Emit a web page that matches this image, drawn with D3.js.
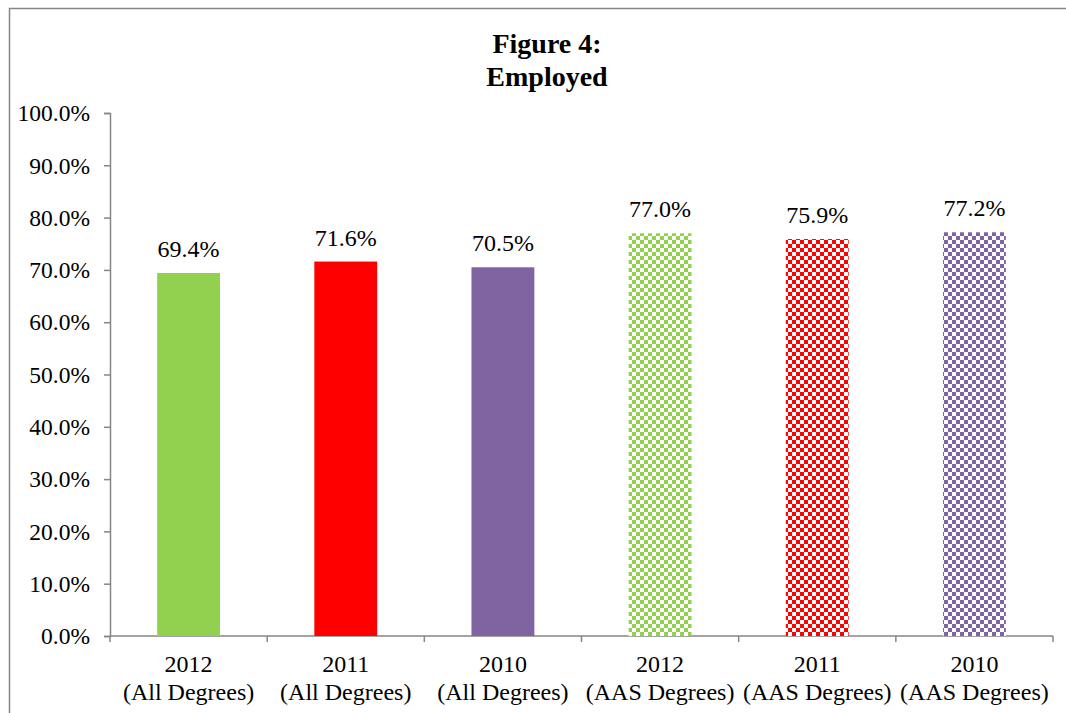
<!DOCTYPE html>
<meta charset="utf-8">
<style>
    body { margin: 0; padding: 0; background: #fff; }
    svg { display: block; }
    text { font-family: "Liberation Serif", "Times New Roman", serif; fill: #000; }
</style>
<svg width="1066" height="713"></svg>
<script src="https://d3js.org/d3.v7.min.js"></script>
<script>
    var years = ["2012", "2011", "2010", "2012", "2011", "2010"];
    var groups = ["(All Degrees)", "(All Degrees)", "(All Degrees)", "(AAS Degrees)", "(AAS Degrees)", "(AAS Degrees)"];
    var values = [69.4, 71.6, 70.5, 77.0, 75.9, 77.2];
    var colors = ["#92D050", "#FF0000", "#8064A2", "#92D050", "#FF0000", "#8064A2"];
    var checkered = [false, false, false, true, true, true];
    var yTicks = [0, 10, 20, 30, 40, 50, 60, 70, 80, 90, 100];

    var svg = d3.select("svg");
    var margin = { left: 110, right: 13, top: 113, bottom: 77 };
    var width = 1066, height = 713;

    // chart frame (right and bottom edges fall outside the picture)
    svg.append("rect")
        .attr("x", 9.5).attr("y", 8.5)
        .attr("width", 1080).attr("height", 720)
        .attr("fill", "#fff")
        .attr("stroke", "#868686").attr("stroke-width", 1.5);

    // checker patterns
    var defs = svg.append("defs");
    colors.forEach(function(c, i) {
        if (!checkered[i]) return;
        var p = defs.append("pattern")
            .attr("id", "chk" + i)
            .attr("patternUnits", "userSpaceOnUse")
            .attr("width", 8).attr("height", 8);
        p.append("rect").attr("width", 8).attr("height", 8).attr("fill", "#fff");
        p.append("rect").attr("width", 4).attr("height", 4).attr("fill", c);
        p.append("rect").attr("x", 4).attr("y", 4).attr("width", 4).attr("height", 4).attr("fill", c);
    });

    var x = d3.scaleBand()
        .domain(d3.range(values.length))
        .range([margin.left, width - margin.right])
        .paddingInner(0.6).paddingOuter(0.3);

    var y = d3.scaleLinear().domain([0, 100]).range([height - margin.bottom, margin.top]);

    // title
    var title = svg.append("text")
        .attr("text-anchor", "middle")
        .style("font-weight", "bold").style("font-size", "28px");
    title.append("tspan").attr("x", 547).attr("y", 53).text("Figure 4:");
    title.append("tspan").attr("x", 547).attr("y", 86).text("Employed");

    // y axis
    var yAxis = svg.append("g")
        .attr("transform", "translate(" + margin.left + ",0)")
        .call(d3.axisLeft(y).tickValues(yTicks).tickSize(6).tickPadding(14)
            .tickFormat(function(d) { return d.toFixed(1) + "%"; }));
    yAxis.selectAll("text").style("font-size", "23.5px").attr("dy", "0.33em");

    // x axis
    var x0 = margin.left, x1 = width - margin.right;
    var xAxis = svg.append("g");
    xAxis.append("line")
        .attr("x1", x0).attr("x2", x1)
        .attr("y1", y(0)).attr("y2", y(0));
    d3.range(values.length + 1).forEach(function(i) {
        var xx = x0 + i * (x1 - x0) / values.length;
        xAxis.append("line")
            .attr("x1", xx).attr("x2", xx)
            .attr("y1", y(0)).attr("y2", y(0) + 6);
    });
    svg.selectAll("g line, g path.domain")
        .attr("stroke", "#868686").attr("stroke-width", 1.5);

    // bars
    svg.append("g").selectAll("rect")
        .data(values)
        .enter().append("rect")
        .attr("x", function(d, i) { return x(i); })
        .attr("width", x.bandwidth())
        .attr("y", function(d) { return y(d); })
        .attr("height", function(d) { return y(0) - y(d); })
        .attr("fill", function(d, i) { return checkered[i] ? "url(#chk" + i + ")" : colors[i]; });

    // value labels
    svg.append("g").selectAll("text")
        .data(values)
        .enter().append("text")
        .attr("x", function(d, i) { return x(i) + x.bandwidth() / 2; })
        .attr("y", function(d) { return y(d) - 16; })
        .attr("text-anchor", "middle")
        .style("font-size", "24px")
        .text(function(d) { return d.toFixed(1) + "%"; });

    // category labels
    var cat = svg.append("g").selectAll("text")
        .data(values)
        .enter().append("text")
        .attr("text-anchor", "middle")
        .style("font-size", "24px");
    cat.append("tspan")
        .attr("x", function(d, i) { return x(i) + x.bandwidth() / 2; })
        .attr("y", 672)
        .text(function(d, i) { return years[i]; });
    cat.append("tspan")
        .attr("x", function(d, i) { return x(i) + x.bandwidth() / 2; })
        .attr("y", 700)
        .text(function(d, i) { return groups[i]; });
</script>
